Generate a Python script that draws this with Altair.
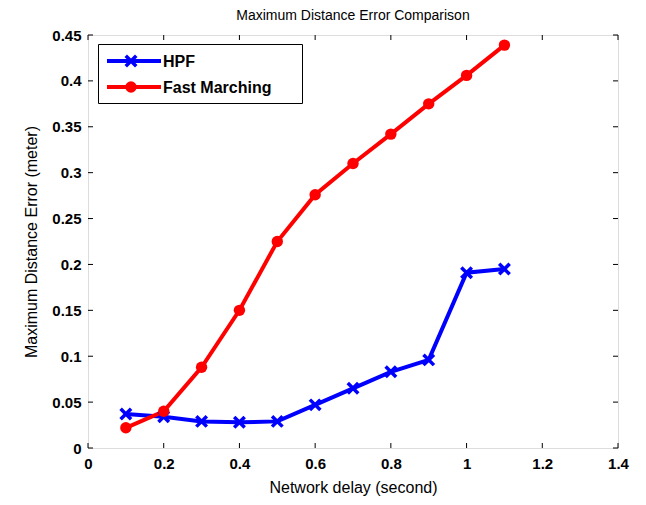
import altair as alt
import pandas as pd

delay = [0.1, 0.2, 0.3, 0.4, 0.5, 0.6, 0.7, 0.8, 0.9, 1.0, 1.1]
hpf = [0.037, 0.034, 0.029, 0.028, 0.029, 0.047, 0.065, 0.083, 0.096, 0.191, 0.195]
fast_marching = [0.022, 0.040, 0.088, 0.150, 0.225, 0.276, 0.310, 0.342, 0.375, 0.406, 0.439]
series_names = ["HPF", "Fast Marching"]
series_colors = ["#0000FF", "#FF0000"]
x_ticks = [0, 0.2, 0.4, 0.6, 0.8, 1.0, 1.2, 1.4]
y_ticks = [0, 0.05, 0.1, 0.15, 0.2, 0.25, 0.3, 0.35, 0.4, 0.45]

W, H = 530, 413
TK = 5
FONT = "Liberation Sans"
CROSS = "M-1,-1L1,1M1,-1L-1,1"

rows = []
for i, d in enumerate(delay):
    rows.append({"delay": d, "value": hpf[i], "series": "HPF"})
    rows.append({"delay": d, "value": fast_marching[i], "series": "Fast Marching"})
df = pd.DataFrame(rows)
df_h = df[df.series == "HPF"]
df_f = df[df.series == "Fast Marching"]

xs = alt.Scale(domain=[0, 1.4], nice=False, zero=False)
ys = alt.Scale(domain=[0, 0.45], nice=False, zero=False)

main_x_axis = alt.Axis(values=x_ticks, format="~g", ticks=False, grid=False, domain=False,
                       labelFlush=False, labelOverlap=False,
                       labelFont=FONT, labelFontWeight="bold", labelFontSize=15, labelColor="black",
                       labelPadding=8, title="Network delay (second)", titleFont=FONT,
                       titleFontSize=16, titleFontWeight="normal", titleColor="black", titlePadding=8)
main_y_axis = alt.Axis(values=y_ticks, format="~g", ticks=False, grid=False, domain=False,
                       labelFlush=False, labelOverlap=False,
                       labelFont=FONT, labelFontWeight="bold", labelFontSize=15, labelColor="black",
                       labelPadding=7, title="Maximum Distance Error (meter)", titleFont=FONT,
                       titleFontSize=16, titleFontWeight="normal", titleColor="black", titlePadding=12)

line_h = alt.Chart(df_h).mark_line(color=series_colors[0], strokeWidth=4).encode(
    x=alt.X("delay:Q", scale=xs, axis=main_x_axis), y=alt.Y("value:Q", scale=ys, axis=main_y_axis))
line_f = alt.Chart(df_f).mark_line(color=series_colors[1], strokeWidth=4).encode(
    x=alt.X("delay:Q", scale=xs), y=alt.Y("value:Q", scale=ys))
pts_h = alt.Chart(df_h).mark_point(shape=CROSS, stroke=series_colors[0], strokeWidth=3.5,
                                   filled=False, size=110, opacity=1).encode(
    x=alt.X("delay:Q", scale=xs), y=alt.Y("value:Q", scale=ys))
pts_f = alt.Chart(df_f).mark_circle(color=series_colors[1], size=130, opacity=1).encode(
    x=alt.X("delay:Q", scale=xs), y=alt.Y("value:Q", scale=ys))

# inward ticks on all four sides (MATLAB box style)
xt_df = pd.DataFrame({"t": x_ticks})
yt_df = pd.DataFrame({"t": y_ticks})
tick_layers = [
    alt.Chart(xt_df).mark_rule(color="black", strokeWidth=1).encode(
        x=alt.X("t:Q", scale=xs), y=alt.value(H), y2=alt.value(H - TK)),
    alt.Chart(xt_df).mark_rule(color="black", strokeWidth=1).encode(
        x=alt.X("t:Q", scale=xs), y=alt.value(0), y2=alt.value(TK)),
    alt.Chart(yt_df).mark_rule(color="black", strokeWidth=1).encode(
        y=alt.Y("t:Q", scale=ys), x=alt.value(0), x2=alt.value(TK)),
    alt.Chart(yt_df).mark_rule(color="black", strokeWidth=1).encode(
        y=alt.Y("t:Q", scale=ys), x=alt.value(W), x2=alt.value(W - TK)),
]

# legend
leg_df = pd.DataFrame({"series": series_names})
leg_box = alt.Chart(leg_df.head(1)).mark_rect(fill="white", stroke="black", strokeWidth=1).encode(
    x=alt.value(10.5), x2=alt.value(214.5), y=alt.value(9.5), y2=alt.value(68.5))
leg_layers = [leg_box]
leg_y = [26, 52]
for i, name in enumerate(series_names):
    one = leg_df[leg_df.series == name]
    leg_layers.append(alt.Chart(one).mark_rule(color=series_colors[i], strokeWidth=4).encode(
        x=alt.value(19), x2=alt.value(73), y=alt.value(leg_y[i])))
    if i == 0:
        leg_layers.append(alt.Chart(one).mark_point(shape=CROSS, stroke=series_colors[0],
                                                    strokeWidth=3.5, filled=False, size=110,
                                                    opacity=1).encode(
            x=alt.value(43), y=alt.value(leg_y[i])))
    else:
        leg_layers.append(alt.Chart(one).mark_circle(color=series_colors[1], size=130,
                                                     opacity=1).encode(
            x=alt.value(43), y=alt.value(leg_y[i])))
    leg_layers.append(alt.Chart(one).mark_text(align="left", baseline="middle", font=FONT,
                                               fontWeight="bold", fontSize=16, color="black").encode(
        x=alt.value(75), y=alt.value(leg_y[i] + 1), text="series:N"))

chart = alt.layer(line_h, line_f, pts_h, pts_f, *tick_layers, *leg_layers).properties(
    width=W, height=H,
    title=alt.TitleParams("Maximum Distance Error Comparison", font=FONT, fontSize=14,
                          fontWeight="normal", color="black", anchor="middle", offset=5),
    autosize=alt.AutoSizeParams(type="none"),
    padding={"left": 80, "top": 27, "right": 20, "bottom": 49},
).configure_view(stroke="black", strokeWidth=1.2).configure(background="white")

chart.save("out.html", embed_options={"renderer": "svg", "actions": False})
